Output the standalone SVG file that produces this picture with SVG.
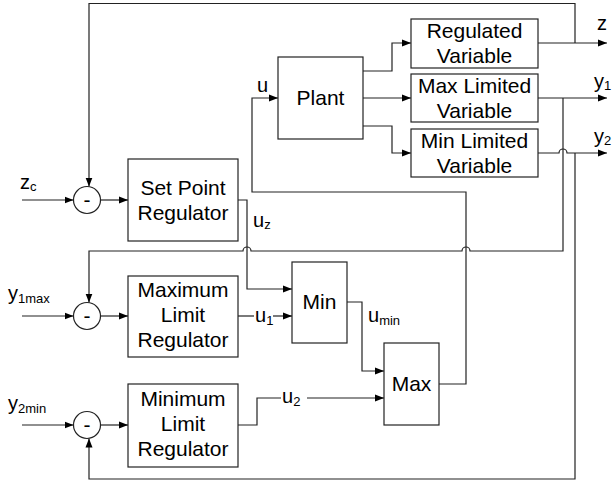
<svg xmlns="http://www.w3.org/2000/svg" width="613" height="482" viewBox="0 0 613 482">
<defs>
<marker id="ar" markerWidth="9" markerHeight="8" refX="9" refY="4" orient="auto" markerUnits="userSpaceOnUse">
<path d="M0,0.5 L9,4 L0,7.5 z" fill="#000"/>
</marker>
<style>
.b{fill:#fff;stroke:#222;stroke-width:1.2}
.c{fill:none;stroke:#222;stroke-width:1.2}
.a{marker-end:url(#ar)}
.t{font-family:"Liberation Sans",Arial,sans-serif;font-size:21px;fill:#000;text-anchor:middle}
.l{font-family:"Liberation Sans",Arial,sans-serif;font-size:20px;fill:#000}
.s{font-size:13px}
</style>
</defs>
<rect width="613" height="482" fill="#fff"/>
<g id="connectors">
<path class="c a" d="M22,200 H73.5"/>
<path class="c a" d="M100.5,200 H128"/>
<path class="c a" d="M22,316 H73.5"/>
<path class="c a" d="M100.5,316 H128"/>
<path class="c a" d="M22,425 H73.5"/>
<path class="c a" d="M100.5,425 H128"/>
<path class="c a" d="M575,43 V3.5 H89 V186.5"/>
<path class="c a" d="M563,98 V251 H470 a4,4 0 0 0 -8,0 H251 a4,4 0 0 0 -8,0 H89 V302.5"/>
<path class="c a" d="M575,153 V479 H89 V438.5"/>
<path class="c a" d="M538,43 H607"/>
<path class="c a" d="M538,98 H607"/>
<path class="c a" d="M538,153 H559 a4,4 0 0 1 8,0 H607"/>
<path class="c a" d="M363,71 H392 V43 H411"/>
<path class="c a" d="M363,98 H411"/>
<path class="c a" d="M363,126 H392 V153 H411"/>
<path class="c a" d="M238,200 H247 V289 H292"/>
<path class="c" d="M238,316 H254"/>
<path class="c a" d="M273,316 H292"/>
<path class="c" d="M238,425 H257 V398 H281"/>
<path class="c a" d="M307,398 H384"/>
<path class="c a" d="M347,302 H362 V371 H384"/>
<path class="c a" d="M439,384 H466 V192 H252 V98 H278"/>
</g>
<g id="sum1"><circle class="b" cx="87" cy="200" r="13.5"/><text class="t" x="87" y="207">-</text></g>
<g id="sum2"><circle class="b" cx="87" cy="316" r="13.5"/><text class="t" x="87" y="323">-</text></g>
<g id="sum3"><circle class="b" cx="87" cy="425" r="13.5"/><text class="t" x="87" y="432">-</text></g>
<g id="setpoint"><rect class="b" x="128" y="159" width="110" height="82"/><text class="t" x="183" y="195">Set Point</text><text class="t" x="183" y="220">Regulator</text></g>
<g id="maxlr"><rect class="b" x="128" y="276" width="110" height="81"/><text class="t" x="183" y="297">Maximum</text><text class="t" x="183" y="322">Limit</text><text class="t" x="183" y="347">Regulator</text></g>
<g id="minlr"><rect class="b" x="128" y="384" width="110" height="83"/><text class="t" x="183" y="406">Minimum</text><text class="t" x="183" y="431">Limit</text><text class="t" x="183" y="456">Regulator</text></g>
<g id="plant"><rect class="b" x="278" y="57" width="85" height="82"/><text class="t" x="320.5" y="105">Plant</text></g>
<g id="min"><rect class="b" x="292" y="262" width="55" height="81"/><text class="t" x="319.5" y="309">Min</text></g>
<g id="max"><rect class="b" x="384" y="343" width="55" height="82"/><text class="t" x="411.5" y="391">Max</text></g>
<g id="regvar"><rect class="b" x="411" y="19" width="127" height="49"/><text class="t" x="474.5" y="38">Regulated</text><text class="t" x="474.5" y="63">Variable</text></g>
<g id="maxlv"><rect class="b" x="411" y="74" width="127" height="48"/><text class="t" x="474.5" y="93">Max Limited</text><text class="t" x="474.5" y="118">Variable</text></g>
<g id="minlv"><rect class="b" x="411" y="129" width="127" height="48"/><text class="t" x="474.5" y="148">Min Limited</text><text class="t" x="474.5" y="173">Variable</text></g>
<g id="labels">
<text class="l" x="20" y="189">z<tspan class="s" dy="2">c</tspan></text>
<text class="l" x="8" y="300">y<tspan class="s" dy="3">1max</tspan></text>
<text class="l" x="8" y="410">y<tspan class="s" dy="3">2min</tspan></text>
<text class="l" x="257" y="92">u</text>
<text class="l" x="253" y="227">u<tspan class="s" dy="2">z</tspan></text>
<text class="l" x="255" y="322">u<tspan class="s" dy="3">1</tspan></text>
<text class="l" x="282" y="403">u<tspan class="s" dy="3">2</tspan></text>
<text class="l" x="368" y="322">u<tspan class="s" dy="3">min</tspan></text>
<text class="l" x="597" y="30">z</text>
<text class="l" x="594" y="88">y<tspan class="s" dy="2">1</tspan></text>
<text class="l" x="594" y="143">y<tspan class="s" dy="2">2</tspan></text>
</g>
</svg>
